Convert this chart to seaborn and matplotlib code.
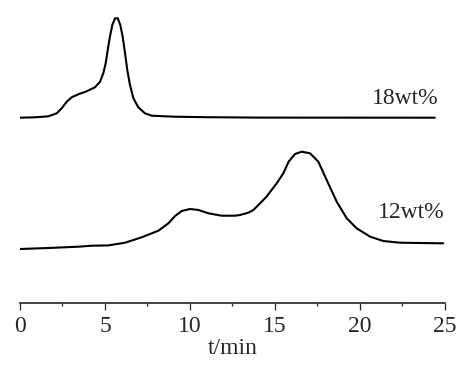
import matplotlib
matplotlib.use("Agg")
import matplotlib.pyplot as plt
import seaborn as sns
import pandas as pd
import numpy as np

# 18wt% trace (time in min, detector signal in arbitrary units)
t_18 = [0.0, 0.88, 1.67, 2.16, 2.45, 2.75, 3.04, 3.43, 3.92, 4.41, 4.71,
        4.9, 5.04, 5.16, 5.29, 5.43, 5.59, 5.75, 5.9, 6.04, 6.18, 6.31,
        6.47, 6.67, 6.96, 7.35, 7.75, 8.53, 9.08, 11.0, 14.0, 24.4]
s_18 = [185.3, 185.7, 186.7, 189.7, 194.7, 201.3, 205.7, 208.7, 211.7,
        215.7, 221.3, 229.7, 239.7, 253.0, 266.3, 278.0, 284.7, 284.7,
        278.0, 266.3, 249.7, 233.0, 218.0, 204.7, 195.7, 189.7, 187.3,
        186.7, 186.3, 185.8, 185.4, 185.3]

# 12wt% trace
t_12 = [0.0, 1.67, 3.43, 4.22, 5.2, 6.18, 7.16, 8.14, 8.73, 9.12, 9.51,
        10.0, 10.5, 11.08, 11.86, 12.65, 12.94, 13.43, 13.73, 14.5, 15.1,
        15.49, 15.8, 16.18, 16.57, 17.06, 17.55, 18.04, 18.63, 19.22,
        19.8, 20.6, 21.37, 22.35, 24.7, 24.9]
s_12 = [54.0, 55.0, 56.3, 57.3, 57.6, 60.3, 65.7, 72.3, 79.7, 87.0, 92.0,
        94.0, 93.0, 89.7, 87.3, 87.3, 88.0, 90.3, 93.0, 106.3, 119.7,
        129.7, 141.3, 149.0, 151.3, 149.7, 141.3, 123.0, 101.3, 84.7,
        74.7, 66.3, 62.0, 60.3, 59.7, 59.7]

labels = ["18wt%", "12wt%"]
label_x = [20.7, 21.08]
label_y = [205, 91]

df = pd.concat([
    pd.DataFrame({"t": t_18, "signal": s_18, "sample": labels[0]}),
    pd.DataFrame({"t": t_12, "signal": s_12, "sample": labels[1]}),
])

sns.set_style("ticks")
plt.rcParams["font.family"] = ["Liberation Serif", "DejaVu Serif"]

fig = plt.figure(figsize=(4.77, 3.65), dpi=100)
ax = fig.add_axes([20 / 477, 62 / 365, 425 / 477, 303 / 365])

sns.lineplot(data=df, x="t", y="signal", units="sample", estimator=None,
             color="black", linewidth=1.5, sort=False, ax=ax, legend=False)

for lab, x, y in zip(labels, label_x, label_y):
    ax.text(x, y, lab, fontsize=17, va="center", ha="left")

ax.set_xlim(0, 25)
ax.set_ylim(0, 303)
ax.set_xticks(np.arange(0, 26, 5))
ax.set_xticks(np.arange(2.5, 25, 5), minor=True)
ax.tick_params(axis="x", which="major", direction="out", length=4.8, width=0.9,
               labelsize=17, pad=4.5)
ax.tick_params(axis="x", which="minor", direction="out", length=2.4, width=0.9)
ax.set_yticks([])
ax.set_ylabel("")
ax.set_xlabel("t/min", fontsize=17, labelpad=0.5)
for side in ["top", "right", "left"]:
    ax.spines[side].set_visible(False)
ax.spines["bottom"].set_linewidth(1.2)

fig.savefig("out.png", dpi=100)
